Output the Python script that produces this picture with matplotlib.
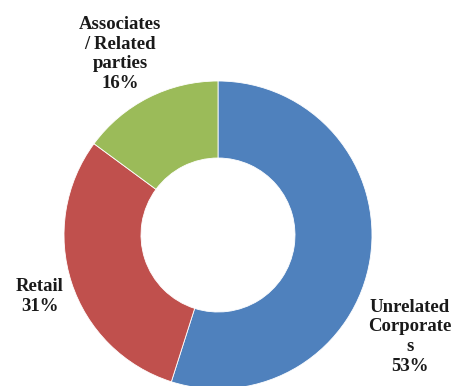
import matplotlib
matplotlib.use("Agg")
import matplotlib.pyplot as plt

categories = ["Unrelated\nCorporate\ns", "Retail", "Associates\n/ Related\nparties"]
# slice sizes as drawn in the picture, and the percentages printed on it
shares = [54.9, 30.2, 14.9]
pct_labels = ["53%", "31%", "16%"]
colors = ["#4F81BD", "#C0504D", "#9BBB59"]
# label anchor points (data units, ring radius = 1)
label_pos = [(1.247, -0.66), (-1.156, -0.40), (-0.636, 1.175)]

plt.rcParams['font.family'] = ['Liberation Serif', 'DejaVu Serif']

fig = plt.figure(figsize=(4.51, 3.86), dpi=100)
ax = fig.add_axes([0, 0, 1, 1])

ax.pie(shares, colors=colors, startangle=90, counterclock=False,
       radius=1.0, wedgeprops=dict(width=0.5, edgecolor="white", linewidth=0.6))

for cat, pct, (x, y) in zip(categories, pct_labels, label_pos):
    ax.text(x, y, f"{cat}\n{pct}", ha="center", va="center",
            fontsize=13.5, fontweight="bold", color="#1a1a1a", linespacing=1.2)

ax.set_xlim(-218 / 154, (451 - 218) / 154)
ax.set_ylim(-(386 - 235) / 154, 235 / 154)
ax.set_aspect("equal")
ax.axis("off")

fig.savefig("out.png", dpi=100)
